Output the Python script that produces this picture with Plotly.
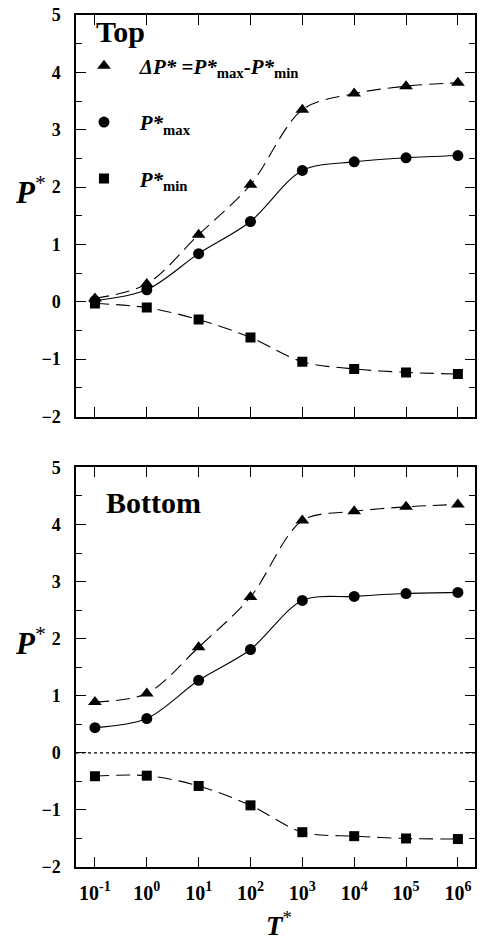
import plotly.graph_objects as go
from plotly.subplots import make_subplots

T = [0.1, 1, 10, 100, 1e3, 1e4, 1e5, 1e6]
tick_text = ["10<sup>-1</sup>", "10<sup>0</sup>", "10<sup>1</sup>", "10<sup>2</sup>",
             "10<sup>3</sup>", "10<sup>4</sup>", "10<sup>5</sup>", "10<sup>6</sup>"]

top_dP = [0.06, 0.31, 1.17, 2.04, 3.35, 3.63, 3.76, 3.82]
top_Pmax = [0.02, 0.21, 0.84, 1.40, 2.29, 2.44, 2.51, 2.55]
top_Pmin = [-0.03, -0.10, -0.31, -0.62, -1.045, -1.17, -1.23, -1.26]

bot_dP = [0.89, 1.04, 1.85, 2.73, 4.07, 4.23, 4.31, 4.35]
bot_Pmax = [0.44, 0.60, 1.27, 1.81, 2.67, 2.74, 2.79, 2.81]
bot_Pmin = [-0.41, -0.40, -0.58, -0.92, -1.39, -1.46, -1.50, -1.51]

names = ["<i>ΔP*</i> =<i>P*</i><sub>max</sub>-<i>P*</i><sub>min</sub>",
         "<i>P*</i><sub>max</sub>",
         "<i>P*</i><sub>min</sub>"]

FONT = "Liberation Serif, Times New Roman, serif"
NB = "\u00a0" * 3

fig = make_subplots(rows=2, cols=1, vertical_spacing=0.0)

series = [
    (top_dP, bot_dP, "triangle-up", 12, "14px,7px"),
    (top_Pmax, bot_Pmax, "circle", 11, "solid"),
    (top_Pmin, bot_Pmin, "square", 10, "14px,7px"),
]

for i, (ytop, ybot, sym, msize, dash) in enumerate(series):
    for row, yv in ((1, ytop), (2, ybot)):
        fig.add_trace(go.Scatter(
            x=T, y=yv, mode="lines", line=dict(color="black", width=1.1, dash=dash,
                                              shape="spline", smoothing=0.9),
            showlegend=False, hoverinfo="skip"), row=row, col=1)
        fig.add_trace(go.Scatter(
            x=T, y=yv, mode="markers",
            marker=dict(symbol=sym, size=msize, color="black"),
            name=NB + names[i], legendgroup=f"g{i}",
            showlegend=(row == 1)), row=row, col=1)

# dotted zero line in bottom panel
fig.add_shape(type="line", xref="x2 domain", yref="y2", x0=0, x1=1, y0=0, y1=0,
              line=dict(color="black", width=1.2, dash="dot"))

xrange = [-1.365, 6.33]
axis_common = dict(showline=True, linecolor="black", linewidth=1.5, mirror="allticks",
                   ticks="inside", ticklen=10, tickwidth=1.3, tickcolor="black",
                   showgrid=False, zeroline=False)

fig.update_xaxes(type="log", range=xrange, tickvals=T, ticktext=tick_text,
                 tickfont=dict(family=FONT, size=20, color="black", weight="bold"),
                 **axis_common)
fig.update_xaxes(showticklabels=False, row=1, col=1)
fig.update_xaxes(ticklabelstandoff=7, row=2, col=1)
fig.update_yaxes(range=[-2, 5], dtick=1, tick0=0, ticklabelstandoff=10,
                 tickfont=dict(family=FONT, size=18, color="black", weight="bold"),
                 minor=dict(dtick=0.5, ticks="inside", ticklen=6, tickwidth=1.2,
                            tickcolor="black", showgrid=False),
                 **axis_common)

fig.update_layout(
    width=482, height=942,
    margin=dict(l=76, r=5, t=14, b=75),
    paper_bgcolor="white", plot_bgcolor="white",
    xaxis=dict(domain=[0, 1]), xaxis2=dict(domain=[0, 1]),
    yaxis=dict(domain=[0.5287, 1.0]), yaxis2=dict(domain=[0.0, 0.469]),
    legend=dict(x=0.02, y=0.964, xanchor="left", yanchor="top",
                bgcolor="rgba(0,0,0,0)", tracegroupgap=26, traceorder="grouped",
                font=dict(family=FONT, size=21, color="black", weight="bold")),
    font=dict(family=FONT, color="black"),
    annotations=[
        dict(text="<b>Top</b>", xref="paper", yref="paper", x=0.045, y=1 - (31 - 14) / 853,
             xanchor="left", yanchor="middle", showarrow=False,
             font=dict(family=FONT, size=30, color="black")),
        dict(text="<b>Bottom</b>", xref="paper", yref="paper", x=0.07, y=(867 - 502) / 853,
             xanchor="left", yanchor="middle", showarrow=False,
             font=dict(family=FONT, size=30, color="black")),
        dict(text="<b><i>P</i></b><sup>*</sup>", xref="paper", yref="paper",
             x=-0.115, y=1 - (190 - 14) / 853, xanchor="center", yanchor="middle",
             showarrow=False, font=dict(family=FONT, size=31, color="black")),
        dict(text="<b><i>P</i></b><sup>*</sup>", xref="paper", yref="paper",
             x=-0.115, y=1 - (641 - 14) / 853, xanchor="center", yanchor="middle",
             showarrow=False, font=dict(family=FONT, size=31, color="black")),
        dict(text="<b><i>T</i></b><sup>*</sup>", xref="paper", yref="paper",
             x=0.51, y=(867 - 924) / 853, xanchor="center", yanchor="middle",
             showarrow=False, font=dict(family=FONT, size=27, color="black")),
    ],
)

fig.write_html("out.html")
